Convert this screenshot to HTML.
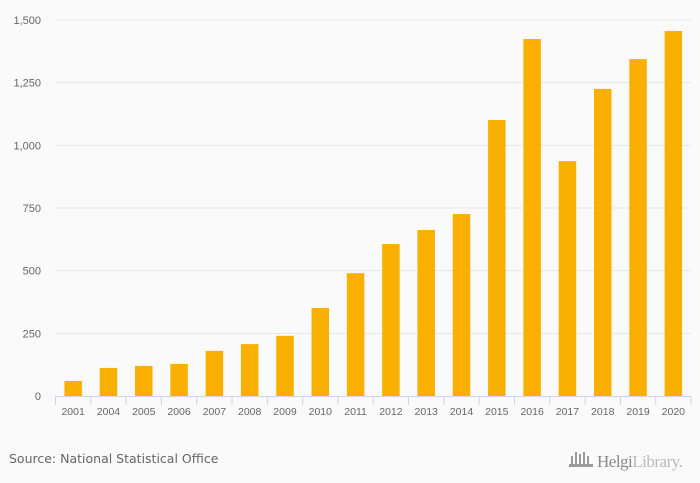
<!DOCTYPE html>
<html><head><meta charset="utf-8"><style>
body{margin:0;background:#fafafa;font-family:"Liberation Sans",sans-serif}
svg{display:block}
</style></head><body>
<svg id="chart" width="700" height="483">
<rect width="700" height="483" fill="#fafafa"/>
<g id="grid"></g><g id="bars"></g><g id="xaxis"></g>
<text x="9" y="463" font-size="12.5" fill="#666" font-family="DejaVu Sans,sans-serif">Source: National Statistical Office</text>
<g>
<g fill="#999"><rect x="571" y="456" width="2" height="9"/><rect x="575" y="452" width="2" height="13"/><rect x="579" y="454" width="2" height="11"/><rect x="583" y="452" width="2" height="13"/><rect x="587" y="456" width="2" height="9"/><rect x="569" y="464" width="24" height="3"/></g>
<text x="597" y="467" font-size="17" fill="#888" font-family="Liberation Serif,serif" letter-spacing="-0.5">Helgi<tspan fill="#bbb">Library.</tspan></text>
</g>
</svg>
<script>
const categories=["2001","2004","2005","2006","2007","2008","2009","2010","2011","2012","2013","2014","2015","2016","2017","2018","2019","2020"];
const values=[60,112,120,128,180,207,240,351,490,606,662,726,1101,1424,937,1225,1344,1456];
const yTicks=[0,250,500,750,1000,1250,1500];
const yTickLabels=["0","250","500","750","1,000","1,250","1,500"];
const NS="http://www.w3.org/2000/svg";
const x0=55.5,x1=691,yTop=20,yBot=396,yMax=1500;
const band=(x1-x0)/categories.length;
const y=v=>yBot-(v/yMax)*(yBot-yTop);
const xb=i=>x0+i*band;
function mk(t,a,p){const e=document.createElementNS(NS,t);for(const k in a)e.setAttribute(k,a[k]);p.appendChild(e);return e;}
const grid=document.getElementById('grid'),bars=document.getElementById('bars'),xa=document.getElementById('xaxis');
yTicks.forEach((v,i)=>{
 if(v>0){const l=mk('line',{x1:x0,x2:x1,y1:y(v),y2:y(v),stroke:'#e6e6e6','stroke-width':1},grid);
 
 }
 const t=mk('text',{x:41,y:y(v)+4,'text-anchor':'end','font-size':11,fill:'#666'},grid);
 t.textContent=yTickLabels[i];
 
 
});
categories.forEach((c,i)=>{
 const w=17.5,cx=xb(i)+band/2;
 const r=mk('rect',{x:cx-w/2,y:y(values[i]),width:w,height:yBot-y(values[i]),fill:'#f9b000'},bars);
 
 
 const t=mk('text',{x:cx,y:415,'text-anchor':'middle','font-size':10.5,fill:'#666'},xa);
 t.textContent=c;
 
 
});
const ax=mk('line',{x1:x0,x2:x1,y1:yBot+0.5,y2:yBot+0.5,stroke:'#ccd6eb','stroke-width':1},xa);


for(let i=0;i<=categories.length;i++){
 const tk=mk('line',{x1:xb(i),x2:xb(i),y1:yBot,y2:yBot+9,stroke:'#ccd6eb','stroke-width':1},xa);
 
 
}
</script>
</body></html>
